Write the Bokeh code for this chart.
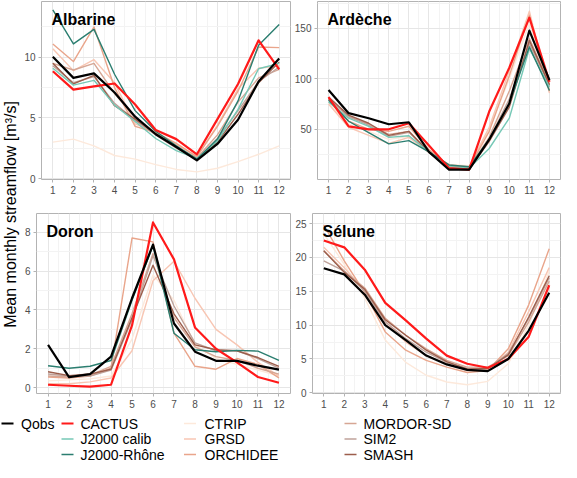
import math
from bokeh.plotting import figure
from bokeh.models import Range1d, FixedTicker, Label
from bokeh.layouts import row, column
from bokeh.embed import file_html
from bokeh.resources import INLINE
from bokeh.core.properties import value

FONT = "Liberation Sans"

months = list(range(1, 13))
month_minor = [m + 0.5 for m in range(1, 12)]

series_order = ["Qobs", "CACTUS", "J2000 calib", "J2000-Rhône", "CTRIP", "GRSD",
                "ORCHIDEE", "MORDOR-SD", "SIM2", "SMASH"]
series_colors = ["#000000", "#FF1A1A", "#76C8B6", "#2B7E70", "#FDE9DB", "#F8C6B3",
                 "#E9A58B", "#D6A694", "#BFA29A", "#9C5E4C"]
series_widths = [2.2, 2.2, 1.4, 1.4, 1.4, 1.4, 1.4, 1.4, 1.4, 1.4]
draw_order = ["CTRIP", "GRSD", "ORCHIDEE", "MORDOR-SD", "SIM2", "SMASH",
              "J2000 calib", "J2000-Rhône", "CACTUS", "Qobs"]

# ---- Albarine ----
alb_qobs = [10.05, 8.3, 8.67, 7.1, 5.1, 3.65, 2.6, 1.5, 2.85, 4.85, 8.0, 9.9]
alb_cactus = [8.85, 7.33, 7.6, 7.84, 6.1, 4.0, 3.25, 2.0, 4.9, 7.8, 11.4, 9.0]
alb_j2000c = [9.1, 7.7, 8.1, 6.05, 4.7, 3.3, 2.3, 1.65, 3.1, 5.7, 9.05, 9.5]
alb_j2000r = [13.9, 11.1, 12.3, 8.6, 5.6, 3.9, 2.7, 1.6, 3.25, 6.4, 11.0, 12.7]
alb_ctrip = [3.0, 3.25, 2.7, 1.9, 1.6, 1.15, 0.75, 0.55, 0.85, 1.4, 2.0, 2.7]
alb_grsd = [10.7, 8.9, 9.8, 7.9, 4.5, 3.8, 2.8, 1.8, 4.4, 7.4, 9.1, 9.3]
alb_orchidee = [11.1, 9.65, 12.5, 7.5, 4.3, 3.8, 2.9, 1.8, 4.3, 7.2, 10.85, 10.8]
alb_mordor = [9.5, 8.95, 9.5, 7.0, 5.0, 3.8, 2.6, 1.7, 3.6, 6.3, 8.3, 9.0]
alb_sim2 = [9.3, 7.9, 8.4, 6.2, 4.8, 3.6, 2.5, 1.6, 3.3, 5.6, 8.0, 9.2]
alb_smash = [9.5, 7.8, 8.5, 6.0, 4.9, 3.7, 2.6, 1.6, 3.0, 5.3, 7.9, 9.6]

# ---- Ardèche ----
ard_qobs = [89, 66, 61, 55, 57, 27.6, 10, 10, 40, 75.6, 147.8, 98.7]
ard_cactus = [82, 53, 50, 50, 56, 34, 11.5, 10, 67.6, 111, 160.6, 97]
ard_j2000c = [77, 61, 53, 42, 43.6, 27.6, 13, 11.5, 31, 61, 130, 91.7]
ard_j2000r = [79, 58, 46.8, 35.6, 38.8, 27.6, 14.7, 13, 40, 75.6, 131.7, 88.5]
ard_ctrip = [76, 55, 48, 40, 43, 28, 15, 14, 50, 100, 155, 90]
ard_grsd = [75, 52, 44, 36, 42, 27, 15, 13, 52, 108, 167, 86]
ard_orchidee = [80, 58, 50, 48, 53, 30, 14, 12, 48, 103, 163, 88]
ard_mordor = [81, 62, 55, 45, 48, 28, 13, 12, 42, 88, 140, 95]
ard_sim2 = [80, 63, 54, 43, 47, 28, 12, 11, 40, 80, 135, 93]
ard_smash = [82, 64, 56, 44, 48, 27, 11, 10, 38, 72, 138, 94]

# ---- Doron ----
dor_qobs = [2.2, 0.54, 0.7, 1.6, 4.6, 7.36, 3.3, 1.85, 1.38, 1.38, 1.13, 0.93]
dor_cactus = [0.15, 0.1, 0.05, 0.15, 3.2, 8.5, 6.6, 3.1, 2.0, 1.3, 0.55, 0.25]
dor_j2000c = None
dor_j2000r = [1.13, 1.0, 1.1, 1.4, 4.5, 7.3, 2.8, 1.95, 1.85, 1.92, 1.88, 1.4]
dor_ctrip = [0.35, 0.4, 0.45, 0.6, 2.5, 5.8, 4.5, 2.2, 1.5, 1.2, 0.9, 0.6]
dor_grsd = [0.2, 0.2, 0.3, 0.5, 1.9, 5.5, 6.5, 4.6, 3.0, 2.2, 1.3, 0.6]
dor_orchidee = [0.55, 0.5, 0.6, 1.0, 7.7, 7.5, 2.8, 1.1, 0.95, 1.5, 1.2, 0.5]
dor_mordor = [0.6, 0.55, 0.65, 1.1, 3.8, 6.9, 3.6, 2.1, 1.6, 1.4, 1.0, 0.7]
dor_sim2 = [0.7, 0.6, 0.6, 0.9, 3.5, 6.8, 4.2, 2.3, 1.9, 1.9, 1.5, 1.0]
dor_smash = [0.82, 0.62, 0.7, 0.95, 3.6, 6.3, 3.8, 2.2, 1.95, 1.9, 1.55, 1.1]

# ---- Sélune ----
sel_qobs = [18.4, 17.5, 14.5, 10.0, 7.8, 5.5, 4.2, 3.4, 3.2, 5.0, 9.2, 14.8]
sel_cactus = [22.5, 21.5, 18.2, 13.3, 10.7, 8.0, 5.5, 4.3, 3.7, 5.0, 8.3, 15.9]
sel_j2000c = None
sel_j2000r = None
sel_ctrip = [23.5, 19.0, 14.0, 7.8, 4.5, 2.6, 1.6, 1.2, 1.7, 4.3, 10.0, 18.0]
sel_grsd = [21.5, 18.5, 15.0, 10.5, 7.5, 5.5, 4.3, 3.3, 3.5, 6.0, 12.0, 18.5]
sel_orchidee = [24.8, 19.5, 14.8, 9.0, 6.3, 4.8, 3.8, 3.0, 3.3, 6.5, 13.0, 21.3]
sel_mordor = [21.0, 18.0, 15.5, 11.0, 8.5, 6.5, 4.8, 3.8, 3.8, 5.5, 10.5, 16.5]
sel_sim2 = [19.5, 18.0, 15.0, 10.5, 8.0, 6.0, 4.5, 3.6, 3.6, 5.8, 11.0, 17.0]
sel_smash = [21.0, 17.8, 15.3, 10.8, 8.5, 6.3, 4.6, 3.5, 3.6, 5.6, 11.2, 17.3]

alb_ticks, alb_minor = [0, 5, 10], [2.5, 7.5, 12.5]
ard_ticks, ard_minor = [50, 100, 150], [25, 75, 125, 175]
dor_ticks, dor_minor = [0, 2, 4, 6, 8], [1, 3, 5, 7]
sel_ticks, sel_minor = [0, 5, 10, 15, 20, 25], [2.5, 7.5, 12.5, 17.5, 22.5]

legend_names = ["Qobs", "CACTUS", "J2000 calib", "J2000-Rhône", "CTRIP", "GRSD",
                "ORCHIDEE", "MORDOR-SD", "SIM2", "SMASH"]
legend_col = [0, 1, 1, 1, 2, 2, 2, 3, 3, 3]
legend_row = [0, 0, 1, 2, 0, 1, 2, 0, 1, 2]


def basin(q, c, jc, jr, ct, gr, orc, mo, si, sm):
    return dict(zip(series_order, [q, c, jc, jr, ct, gr, orc, mo, si, sm]))


panels = [
    ("Albarine", basin(alb_qobs, alb_cactus, alb_j2000c, alb_j2000r, alb_ctrip, alb_grsd,
                       alb_orchidee, alb_mordor, alb_sim2, alb_smash),
     (-0.08, 14.6), alb_ticks, alb_minor),
    ("Ardèche", basin(ard_qobs, ard_cactus, ard_j2000c, ard_j2000r, ard_ctrip, ard_grsd,
                      ard_orchidee, ard_mordor, ard_sim2, ard_smash),
     (0.3, 176.6), ard_ticks, ard_minor),
    ("Doron", basin(dor_qobs, dor_cactus, dor_j2000c, dor_j2000r, dor_ctrip, dor_grsd,
                    dor_orchidee, dor_mordor, dor_sim2, dor_smash),
     (-0.3, 8.96), dor_ticks, dor_minor),
    ("Sélune", basin(sel_qobs, sel_cactus, sel_j2000c, sel_j2000r, sel_ctrip, sel_grsd,
                     sel_orchidee, sel_mordor, sel_sim2, sel_smash),
     (-0.1, 26.5), sel_ticks, sel_minor),
]

color_of = dict(zip(series_order, series_colors))
width_of = dict(zip(series_order, series_widths))

# layout: (width, height, border left, right, top, bottom)
geoms = [
    (270, 205, 17, 1, 1, 26),
    (270, 205, 22, 1, 1, 26),
    (270, 209, 12, 1, 8, 21),
    (270, 209, 21, 1, 8, 21),
]


def make_panel(title, data, yr, yt, ym, geom):
    w, h, bl, br, bt, bb = geom
    p = figure(width=w, height=h, x_range=Range1d(0.45, 12.55), y_range=Range1d(*yr),
               output_backend="svg", toolbar_location=None,
               min_border_left=bl, min_border_right=br, min_border_top=bt,
               min_border_bottom=bb, background_fill_color="white",
               border_fill_color="white")
    p.outline_line_color = "#B3B3B3"
    p.outline_line_width = 1
    p.xaxis.ticker = FixedTicker(ticks=months, minor_ticks=month_minor)
    p.yaxis.ticker = FixedTicker(ticks=yt, minor_ticks=ym)
    for ax in (p.xaxis, p.yaxis):
        ax.axis_line_color = None
        ax.major_tick_line_color = "#B3B3B3"
        ax.major_tick_out = 3
        ax.major_tick_in = 0
        ax.minor_tick_line_color = None
        ax.major_label_text_color = "#4D4D4D"
        ax.major_label_text_font = FONT
        ax.major_label_text_font_size = "10px"
        ax.major_label_standoff = 2
    p.xgrid.grid_line_color = "#E6E6E6"
    p.ygrid.grid_line_color = "#E6E6E6"
    p.xgrid.minor_grid_line_color = "#F3F3F3"
    p.ygrid.minor_grid_line_color = "#F3F3F3"
    for name in draw_order:
        vals = data[name]
        if vals is None:
            continue
        p.line(months, vals, line_color=color_of[name], line_width=width_of[name],
               line_join="round")
    p.add_layout(Label(x=0.45, y=yr[1], x_offset=10, y_offset=-18, text=title,
                       text_font=FONT, text_font_style="bold", text_font_size="16px",
                       text_baseline="alphabetic", text_color="black"))
    return p


figs = [make_panel(t, d, yr, yt, ym, g) for (t, d, yr, yt, ym), g in zip(panels, geoms)]

# y-axis title
ylab = figure(width=21, height=414, x_range=Range1d(0, 21), y_range=Range1d(0, 414),
              output_backend="svg", toolbar_location=None, min_border=0,
              outline_line_color=None)
ylab.axis.visible = False
ylab.grid.visible = False
ylab.text(x=[10], y=[200], text=["Mean monthly streamflow [m³/s]"], angle=math.pi / 2,
          text_align="center", text_baseline="middle", text_font=value(FONT),
          text_font_size="16px", text_color="black")

# legend
leg = figure(width=561, height=48, x_range=Range1d(0, 561), y_range=Range1d(48, 0),
             output_backend="svg", toolbar_location=None, min_border=0,
             outline_line_color=None)
leg.axis.visible = False
leg.grid.visible = False
col_line_x = [1, 61, 183.5, 344]
col_text_x = [20.5, 80, 204, 363]
row_y = [9, 24.5, 40]
for name, c, r in zip(legend_names, legend_col, legend_row):
    y = row_y[r]
    leg.segment(x0=[col_line_x[c]], y0=[y], x1=[col_line_x[c] + 12], y1=[y],
                line_color=color_of[name], line_width=width_of[name])
    leg.text(x=[col_text_x[c]], y=[y], text=[name], text_align="left",
             text_baseline="middle", text_font=value(FONT), text_font_size="14px",
             text_color="black")

layout = column(row(ylab, column(row(figs[0], figs[1]), row(figs[2], figs[3]))), leg)

open("out.html", "w").write(file_html(layout, INLINE))
